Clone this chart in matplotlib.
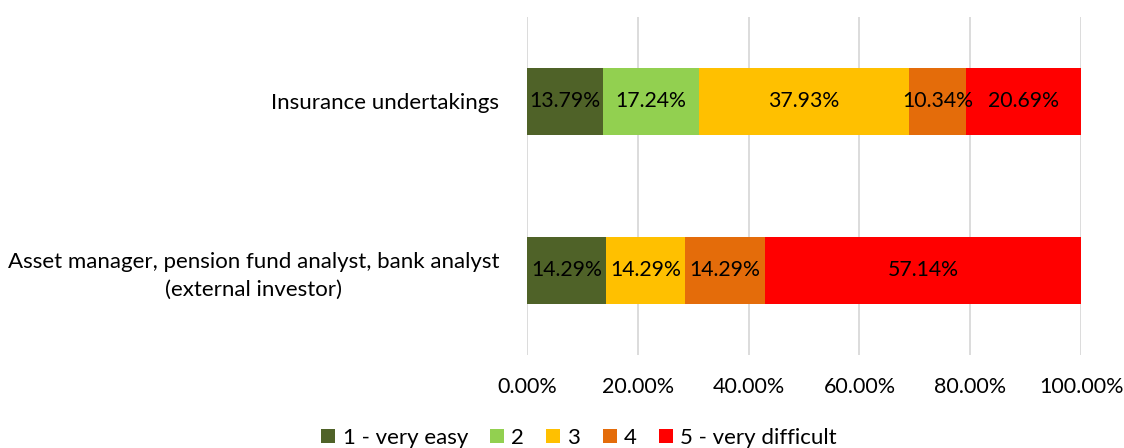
import numpy as np
import matplotlib.pyplot as plt
from matplotlib.ticker import FuncFormatter

plt.rcParams['font.family'] = ['Lato', 'DejaVu Sans']

# survey groups, bottom to top
groups = ['Asset manager, pension fund analyst, bank analyst\n(external investor)',
          'Insurance undertakings']
answers = ['1 - very easy', '2', '3', '4', '5 - very difficult']
colors = ['#4F6228', '#92D050', '#FFC000', '#E46C0A', '#FF0000']

# share of answers (%) per group, same order as groups
very_easy = [14.29, 13.79]
two = [0.0, 17.24]
three = [14.29, 37.93]
four = [14.29, 10.34]
very_difficult = [57.14, 20.69]
series = [very_easy, two, three, four, very_difficult]

fig = plt.figure(figsize=(11.24, 4.48), dpi=100)
ax = fig.add_axes([0.4689, 0.2076, 0.4929, 0.7545])

y = np.arange(len(groups))
left = np.zeros(len(groups))
for name, vals, c in zip(answers, series, colors):
    vals = np.array(vals) / 100
    ax.barh(y, vals, left=left, height=0.4, color=c, label=name, zorder=3)
    for yi, l, v in zip(y, left, vals):
        if v > 0:
            ax.text(l + v / 2, yi, f'{v*100:.2f}%', ha='center', va='center',
                    fontsize=15.3, color='black', zorder=4)
    left += vals

ax.set_xlim(0, 1)
ax.set_ylim(-0.5, 1.5)
ax.set_xticks(np.arange(0, 1.01, 0.2))
ax.xaxis.set_major_formatter(FuncFormatter(lambda v, p: f'{v*100:.2f}%'))
ax.set_yticks(y)
ax.set_yticklabels(groups, multialignment='center', linespacing=1.45)
ax.tick_params(axis='x', length=0, labelsize=15.5, pad=16)
ax.tick_params(axis='y', length=0, labelsize=16, pad=20)
ax.grid(axis='x', color='#D9D9D9', linewidth=1.3, zorder=0)
for s in ax.spines.values():
    s.set_visible(False)

fig.legend(loc='center', bbox_to_anchor=(579 / 1124, 1 - 438 / 448), ncol=5,
           frameon=False, fontsize=16, handlelength=0.63, handleheight=0.63,
           handletextpad=0.32, columnspacing=1.0)

fig.savefig('out.png', dpi=100)
